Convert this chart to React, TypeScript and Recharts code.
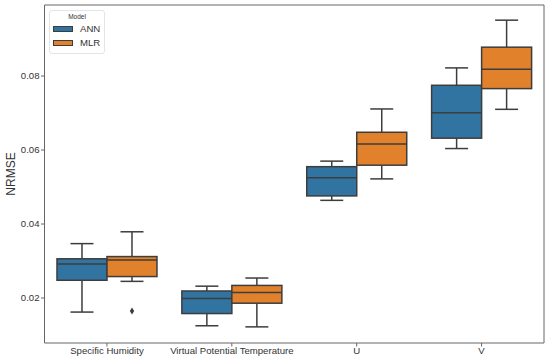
import React from "react";
import { ComposedChart, Bar, XAxis, YAxis, Legend } from "recharts";

const categories = ["Specific Humidity", "Virtual Potential Temperature", "U", "V"];
// [whiskerLow, q1, median, q3, whiskerHigh]
const annStats = [
  [0.0162, 0.0248, 0.0292, 0.0306, 0.0347],
  [0.0125, 0.0158, 0.0199, 0.0219, 0.0232],
  [0.0464, 0.0476, 0.0525, 0.0555, 0.0570],
  [0.0604, 0.0632, 0.0701, 0.0775, 0.0822],
];
const mlrStats = [
  [0.0245, 0.0258, 0.0303, 0.0312, 0.0379],
  [0.0122, 0.0186, 0.0215, 0.0234, 0.0254],
  [0.0522, 0.0559, 0.0616, 0.0648, 0.0711],
  [0.0710, 0.0766, 0.0818, 0.0878, 0.0951],
];
const annOutliers: number[][] = [[], [], [], []];
const mlrOutliers: number[][] = [[0.0165], [], [], []];
const yTicks = [0.02, 0.04, 0.06, 0.08];
const yDomain = [0.00784, 0.0992];

const ANN_COLOR = "#3274A1";
const MLR_COLOR = "#E1812C";
const LINE = "#3d3d3d";
const FRAME = "#666";

const data = categories.map((c, i) => ({
  name: c,
  ann: annStats[i],
  mlr: mlrStats[i],
  annOut: annOutliers[i],
  mlrOut: mlrOutliers[i],
  annRange: [annStats[i][0], annStats[i][4]],
  mlrRange: [mlrStats[i][0], mlrStats[i][4]],
}));

const makeBox = (statsKey: string, outKey: string, color: string) => (props: any) => {
  const { x, y, width, height, payload } = props;
  const s: number[] = payload[statsKey];
  const lo = s[0];
  const hi = s[4];
  const pxPer = height / (hi - lo);
  const toY = (v: number) => y + (hi - v) * pxPer;
  const cx = x + width / 2;
  const capW = width * 0.23;
  const outs: number[] = payload[outKey] || [];
  return (
    <g>
      <line x1={cx} x2={cx} y1={toY(s[4])} y2={toY(s[3])} stroke={LINE} strokeWidth={1.5} />
      <line x1={cx} x2={cx} y1={toY(s[1])} y2={toY(s[0])} stroke={LINE} strokeWidth={1.5} />
      <line x1={cx - capW} x2={cx + capW} y1={toY(s[4])} y2={toY(s[4])} stroke={LINE} strokeWidth={1.5} />
      <line x1={cx - capW} x2={cx + capW} y1={toY(s[0])} y2={toY(s[0])} stroke={LINE} strokeWidth={1.5} />
      <rect x={x} y={toY(s[3])} width={width} height={toY(s[1]) - toY(s[3])} fill={color} stroke={LINE} strokeWidth={1.5} />
      <line x1={x} x2={x + width} y1={toY(s[2])} y2={toY(s[2])} stroke={LINE} strokeWidth={1.5} />
      {outs.map((o, k) => {
        const oy = toY(o);
        return (
          <path key={k} d={`M${cx},${oy - 3.5} L${cx + 2.2},${oy} L${cx},${oy + 3.5} L${cx - 2.2},${oy} Z`} fill={LINE} />
        );
      })}
    </g>
  );
};

const LegendBox = () => (
  <div
    style={{
      border: "1px solid #e4e4e4",
      borderRadius: 3,
      background: "#fff",
      width: 56,
      padding: "1px 0 3px 0",
      fontFamily: "'Liberation Sans', Arial, sans-serif",
      color: "#333",
      boxSizing: "border-box",
    }}
  >
    <div style={{ fontSize: 6.5, textAlign: "center", lineHeight: "10px", height: 10 }}>Model</div>
    {[
      ["ANN", ANN_COLOR],
      ["MLR", MLR_COLOR],
    ].map(([label, col]) => (
      <div key={label} style={{ display: "flex", alignItems: "center", height: 14, marginLeft: 3 }}>
        <div
          style={{
            width: 20,
            height: 6,
            background: col,
            border: `1px solid ${LINE}`,
            boxSizing: "border-box",
            marginRight: 7,
            flex: "none",
          }}
        />
        <span style={{ fontSize: 9.6, lineHeight: "14px", whiteSpace: "nowrap" }}>{label}</span>
      </div>
    ))}
  </div>
);

export default function App() {
  const font = "'Liberation Sans', Arial, sans-serif";
  return (
    <div style={{ position: "absolute", left: 0, top: 0, background: "#fff" }}>
      <ComposedChart
        width={550}
        height={362}
        data={data}
        margin={{ top: 4, right: 5, bottom: 0, left: 0 }}
        barCategoryGap="10%"
        barGap={0}
        style={{ fontFamily: font }}
      >
        <XAxis
          dataKey="name"
          height={19}
          tickSize={3.5}
          tickMargin={1}
          stroke={FRAME}
          tick={{ fill: "#333", fontSize: 9.6, fontFamily: font }}
          tickLine={{ stroke: FRAME }}
          interval={0}
        />
        <XAxis xAxisId="top" dataKey="name" orientation="top" height={1} tick={false} tickLine={false} stroke={FRAME} />
        <YAxis
          width={44.5}
          domain={yDomain}
          ticks={yTicks}
          tickFormatter={(v: number) => v.toFixed(2)}
          tickSize={3.5}
          tickMargin={1.5}
          stroke={FRAME}
          tick={{ fill: "#333", fontSize: 9.6, fontFamily: font }}
          allowDataOverflow
          label={{ value: "NRMSE", angle: -90, position: "insideLeft", offset: 0, dx: 11, style: { fontSize: 12, fill: "#333", textAnchor: "middle", fontFamily: font } }}
        />
        <YAxis yAxisId="right" orientation="right" width={1} domain={yDomain} tick={false} tickLine={false} stroke={FRAME} />
        <Legend
          layout="horizontal"
          verticalAlign="middle"
          align="center"
          content={<LegendBox />}
          wrapperStyle={{ position: "absolute", left: 49, top: 10, width: "auto", height: "auto" }}
        />
        <Bar dataKey="annRange" name="ANN" fill={ANN_COLOR} isAnimationActive={false} shape={makeBox("ann", "annOut", ANN_COLOR)} />
        <Bar dataKey="mlrRange" name="MLR" fill={MLR_COLOR} isAnimationActive={false} shape={makeBox("mlr", "mlrOut", MLR_COLOR)} />
      </ComposedChart>
    </div>
  );
}
